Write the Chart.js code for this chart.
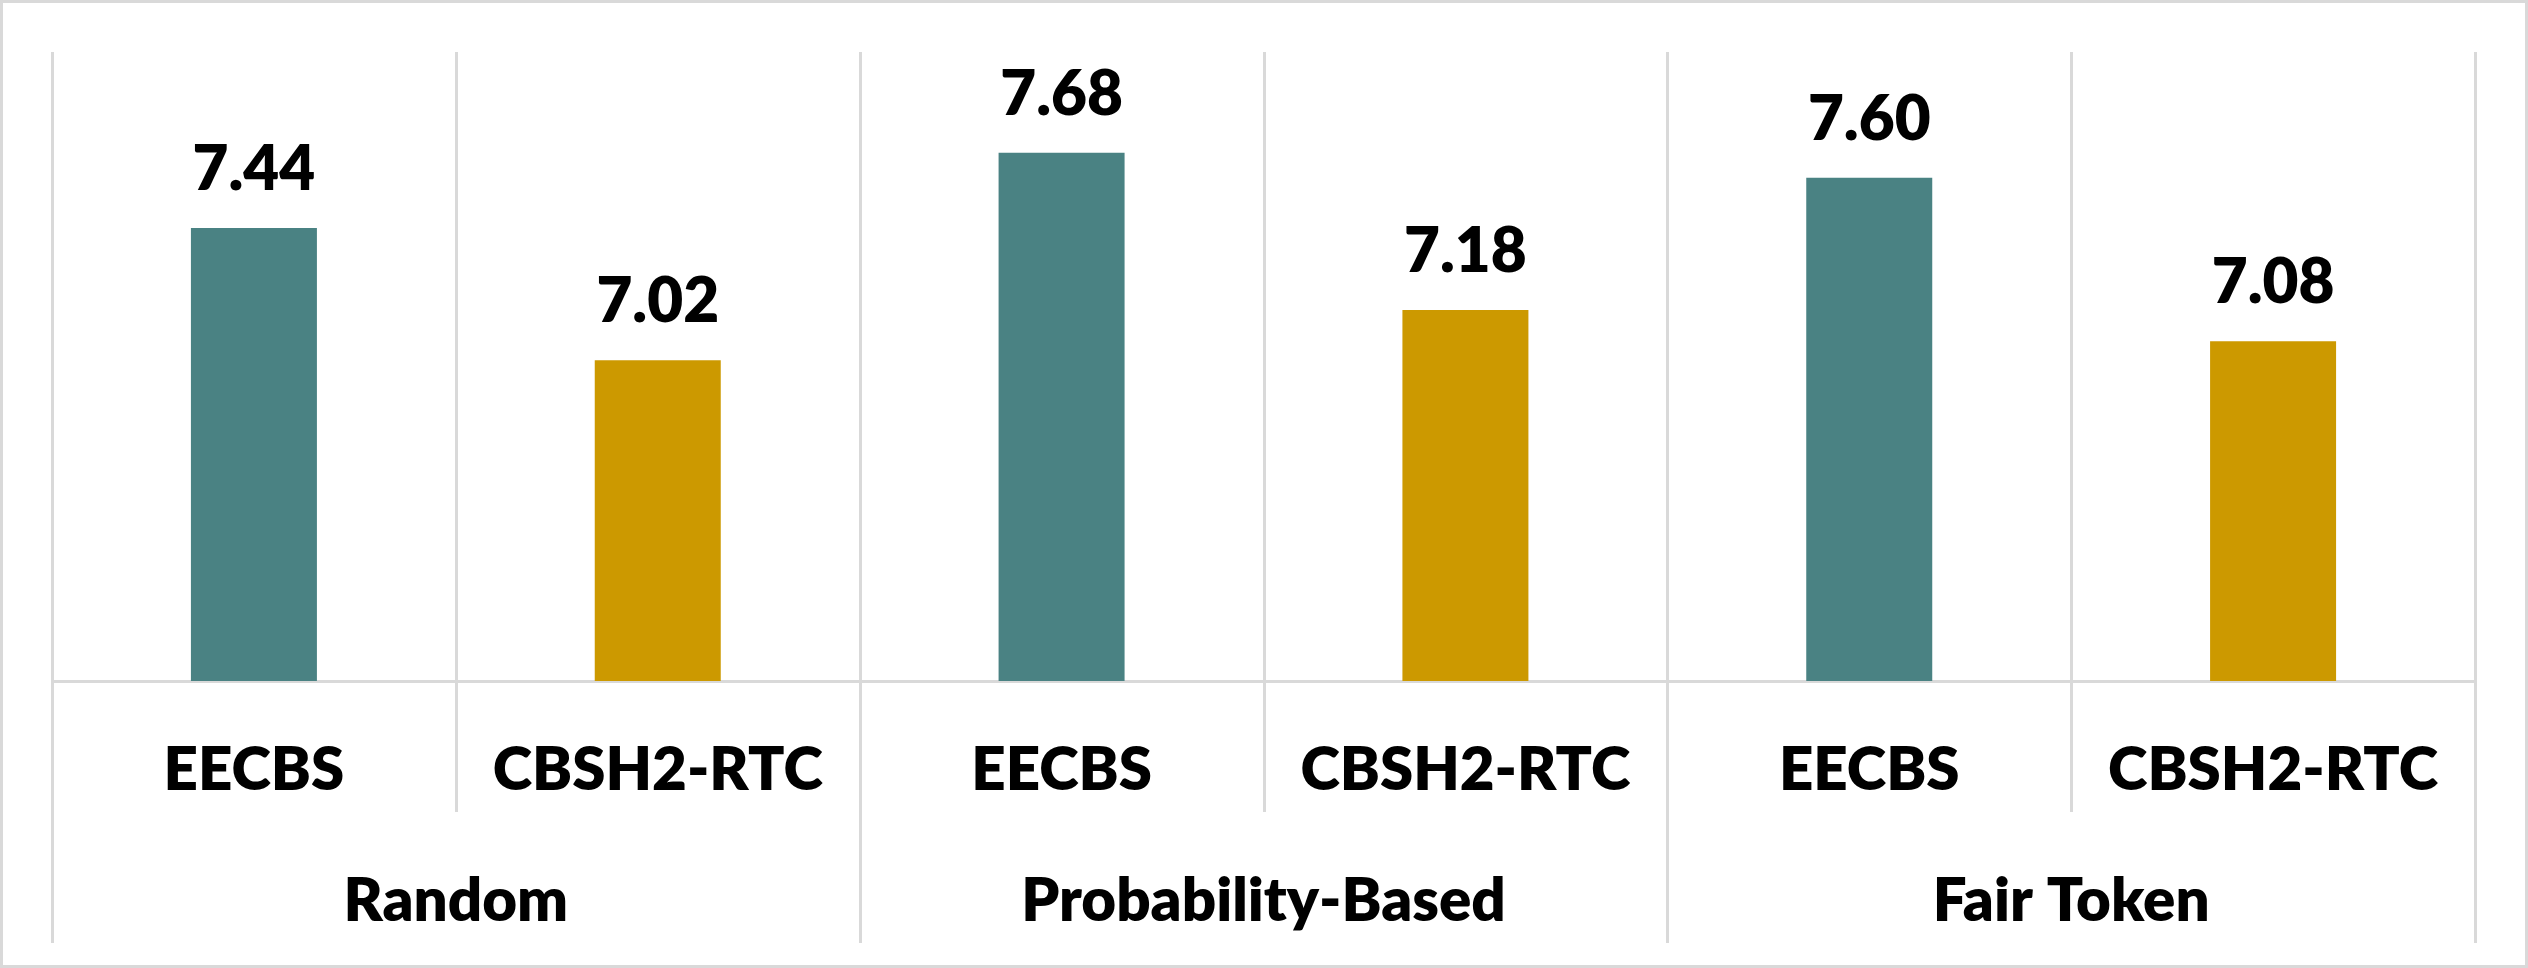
<!DOCTYPE html>
<html>
<head>
<meta charset="utf-8">
<script src="https://cdn.jsdelivr.net/npm/chart.js@4.4.0/dist/chart.umd.min.js"></script>
<style>
  html, body { margin: 0; padding: 0; background: #ffffff; }
  #wrap { width: 2528px; height: 968px; }
  canvas { display: block; }
</style>
</head>
<body>
<div id="wrap"><canvas id="chart" width="2528" height="968"></canvas></div>
<script>
// ---- data ----
const methods = ['EECBS', 'CBSH2-RTC', 'EECBS', 'CBSH2-RTC', 'EECBS', 'CBSH2-RTC'];
const groups = ['Random', 'Probability-Based', 'Fair Token'];
const values = [7.44, 7.02, 7.68, 7.18, 7.60, 7.08];
const yMin = 6;
const yMax = 8;

// ---- styles ----
const methodColors = { 'EECBS': '#4A8283', 'CBSH2-RTC': '#CC9900' };
const GRID_COLOR = '#D9D9D9';
const GRID_WIDTH = 3;
const ROW_H = 131;          // height of each label row under the axis
const LABEL_GAP = 38;       // gap between value label and bar top
const FONT = 'Lato';
const WEIGHT = 800;

const borderPlugin = {
  id: 'frame',
  beforeDraw(chart) {
    const ctx = chart.ctx;
    ctx.save();
    ctx.fillStyle = '#ffffff';
    ctx.fillRect(0, 0, chart.width, chart.height);
    ctx.strokeStyle = GRID_COLOR;
    ctx.lineWidth = 3;
    ctx.strokeRect(1.5, 1.5, chart.width - 3, chart.height - 3);
    ctx.restore();
  }
};

const separatorPlugin = {
  id: 'separators',
  beforeDatasetsDraw(chart) {
    const x = chart.scales.x;
    const area = chart.chartArea;
    const ctx = chart.ctx;
    ctx.save();
    ctx.strokeStyle = GRID_COLOR;
    ctx.lineWidth = GRID_WIDTH;
    for (let i = 0; i <= methods.length; i++) {
      const px = Math.round(x.getPixelForValue(i - 0.5)) + 0.5;
      const isGroupEdge = (i % 2 === 0);
      const bottom = area.bottom + (isGroupEdge ? 2 * ROW_H : ROW_H);
      ctx.beginPath();
      ctx.moveTo(px, area.top);
      ctx.lineTo(px, bottom);
      ctx.stroke();
    }
    ctx.restore();
  }
};

const valueLabelPlugin = {
  id: 'valueLabels',
  afterDatasetsDraw(chart) {
    const ctx = chart.ctx;
    const meta = chart.getDatasetMeta(0);
    ctx.save();
    ctx.font = WEIGHT + ' 62px ' + FONT;
    ctx.fillStyle = '#000000';
    ctx.textAlign = 'center';
    ctx.textBaseline = 'alphabetic';
    meta.data.forEach((bar, i) => {
      ctx.fillText(values[i].toFixed(2), bar.x, bar.y - LABEL_GAP);
    });
    ctx.restore();
  }
};

function draw() {
  new Chart(document.getElementById('chart'), {
    type: 'bar',
    data: {
      labels: methods,
      datasets: [{
        data: values,
        backgroundColor: methods.map(m => methodColors[m]),
        borderWidth: 0,
        categoryPercentage: 1,
        barPercentage: 0.312
      }]
    },
    options: {
      responsive: false,
      animation: false,
      devicePixelRatio: 1,
      layout: { padding: { left: 52, right: 53, top: 52, bottom: 25 } },
      plugins: { legend: { display: false }, tooltip: { enabled: false } },
      scales: {
        y: { display: false, min: yMin, max: yMax },
        x: {
          position: 'bottom',
          weight: 0,
          offset: true,
          grid: { display: false, drawTicks: false, offset: true },
          border: { display: true, color: GRID_COLOR, width: GRID_WIDTH },
          ticks: {
            color: '#000000',
            font: { family: FONT, size: 60, weight: WEIGHT, lineHeight: 1.2 },
            padding: 54,
            maxRotation: 0,
            minRotation: 0,
            autoSkip: false
          }
        },
        x2: {
          type: 'category',
          position: 'bottom',
          weight: 1,
          labels: groups,
          offset: true,
          grid: { display: false, drawTicks: false },
          border: { display: false },
          ticks: {
            color: '#000000',
            font: { family: FONT, size: 60, weight: WEIGHT, lineHeight: 1.2 },
            padding: 5,
            maxRotation: 0,
            minRotation: 0,
            autoSkip: false
          }
        }
      }
    },
    plugins: [borderPlugin, separatorPlugin, valueLabelPlugin]
  });
}

if (document.fonts && document.fonts.load) {
  Promise.all([document.fonts.load(WEIGHT + ' 60px Lato'), document.fonts.load(WEIGHT + ' 62px Lato')])
    .then(draw, draw);
} else {
  draw();
}
</script>
</body>
</html>
